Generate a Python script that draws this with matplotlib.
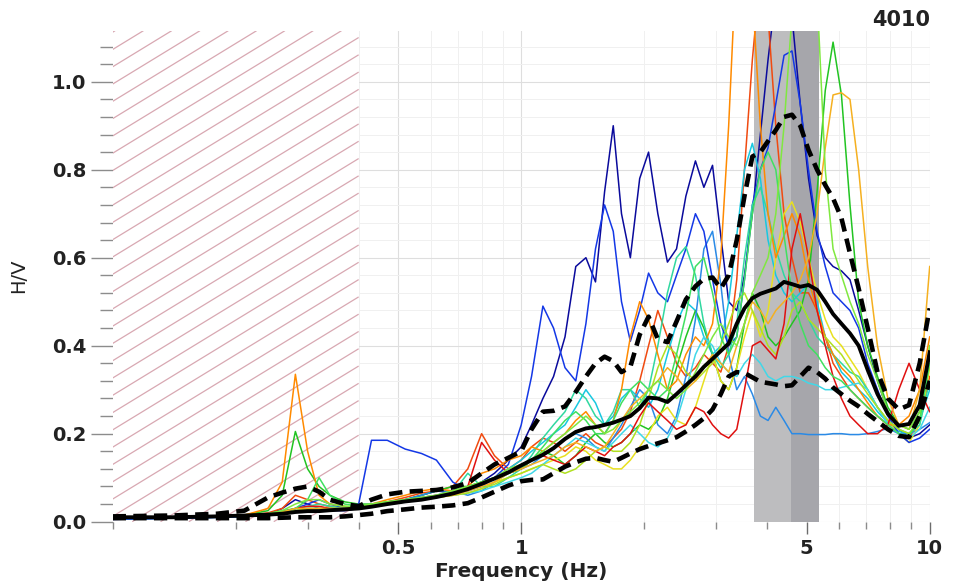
import numpy as np
import matplotlib
matplotlib.use('Agg')
import matplotlib.pyplot as plt
from matplotlib.collections import LineCollection
from matplotlib.ticker import FixedLocator, MultipleLocator, NullFormatter, FixedFormatter, FormatStrFormatter

# frequency samples shared by every curve (Hz)
freq = [0.10, 0.14, 0.18, 0.21, 0.24, 0.26, 0.28, 0.30, 0.32, 0.34,
        0.37, 0.40, 0.43, 0.47, 0.52, 0.57, 0.62, 0.68, 0.74, 0.80,
        0.86, 0.93, 1.00, 1.06, 1.13, 1.20, 1.28, 1.36, 1.44, 1.52,
        1.60, 1.68, 1.76, 1.85, 1.95, 2.05, 2.16, 2.28, 2.40, 2.53,
        2.67, 2.80, 2.94, 3.08, 3.22, 3.37, 3.52, 3.68, 3.85, 4.02,
        4.20, 4.40, 4.60, 4.82, 5.05, 5.30, 5.55, 5.80, 6.08, 6.38,
        6.70, 7.05, 7.45, 7.90, 8.40, 8.90, 9.45, 10.0]

hv_mean = [0.010, 0.010, 0.012, 0.014, 0.016, 0.018, 0.022, 0.024, 0.024, 0.026, 0.028, 0.030,
           0.034, 0.040, 0.046, 0.050, 0.056, 0.064, 0.074, 0.086, 0.098, 0.112,
           0.128, 0.140, 0.152, 0.167, 0.188, 0.204, 0.212, 0.215, 0.220, 0.225,
           0.232, 0.240, 0.258, 0.282, 0.280, 0.272, 0.290, 0.310, 0.330, 0.352,
           0.370, 0.388, 0.405, 0.450, 0.485, 0.508, 0.518, 0.524, 0.530, 0.545,
           0.540, 0.534, 0.538, 0.527, 0.500, 0.472, 0.450, 0.428, 0.400, 0.345,
           0.290, 0.245, 0.218, 0.222, 0.265, 0.385]

hv_plus = [0.012, 0.014, 0.018, 0.025, 0.055, 0.066, 0.075, 0.080, 0.068, 0.050, 0.040, 0.035,
           0.050, 0.062, 0.068, 0.070, 0.072, 0.078, 0.088, 0.110, 0.130, 0.145,
           0.160, 0.210, 0.250, 0.252, 0.262, 0.295, 0.330, 0.360, 0.375, 0.365,
           0.340, 0.352, 0.425, 0.466, 0.415, 0.408, 0.455, 0.505, 0.535, 0.552,
           0.555, 0.530, 0.560, 0.640, 0.740, 0.830, 0.840, 0.865, 0.890, 0.920,
           0.925, 0.900, 0.845, 0.800, 0.765, 0.735, 0.690, 0.610, 0.530, 0.440,
           0.340, 0.280, 0.255, 0.265, 0.360, 0.485]

hv_minus = [0.008, 0.008, 0.008, 0.008, 0.008, 0.009, 0.010, 0.010, 0.010, 0.010, 0.012, 0.015,
            0.018, 0.024, 0.028, 0.032, 0.034, 0.037, 0.042, 0.055, 0.068, 0.082,
            0.092, 0.095, 0.096, 0.110, 0.125, 0.135, 0.143, 0.145, 0.140, 0.136,
            0.145, 0.155, 0.165, 0.172, 0.178, 0.185, 0.192, 0.205, 0.220, 0.235,
            0.255, 0.290, 0.330, 0.340, 0.338, 0.328, 0.318, 0.315, 0.312, 0.308,
            0.310, 0.330, 0.350, 0.340, 0.325, 0.305, 0.290, 0.275, 0.262, 0.245,
            0.228, 0.210, 0.195, 0.192, 0.240, 0.320]

# individual windows
win_navy = [0.005, 0.008, 0.010, 0.012, 0.016, 0.030, 0.050, 0.040, 0.030, 0.025, 0.025, 0.030,
            0.035, 0.040, 0.050, 0.060, 0.070, 0.065, 0.075, 0.090, 0.110, 0.140,
            0.170, 0.220, 0.280, 0.330, 0.420, 0.580, 0.600, 0.545, 0.750, 0.900,
            0.700, 0.600, 0.780, 0.840, 0.700, 0.590, 0.620, 0.740, 0.820, 0.760,
            0.810, 0.650, 0.500, 0.480, 0.560, 0.700, 0.880, 1.050, 1.200, 1.200,
            1.150, 0.950, 0.780, 0.650, 0.600, 0.580, 0.570, 0.550, 0.480, 0.400,
            0.320, 0.250, 0.210, 0.190, 0.200, 0.220]
win_blue = [0.006, 0.008, 0.010, 0.012, 0.015, 0.020, 0.030, 0.040, 0.050, 0.040, 0.030, 0.040,
            0.185, 0.185, 0.165, 0.155, 0.140, 0.090, 0.070, 0.080, 0.100, 0.130,
            0.220, 0.330, 0.490, 0.440, 0.350, 0.320, 0.450, 0.620, 0.720, 0.660,
            0.500, 0.410, 0.480, 0.565, 0.520, 0.500, 0.560, 0.620, 0.700, 0.660,
            0.550, 0.450, 0.400, 0.420, 0.550, 0.720, 0.800, 0.850, 0.950, 1.060,
            1.070, 0.950, 0.800, 0.660, 0.580, 0.520, 0.500, 0.480, 0.440, 0.360,
            0.300, 0.240, 0.200, 0.180, 0.190, 0.210]
win_sky = [0.006, 0.008, 0.010, 0.012, 0.014, 0.020, 0.025, 0.030, 0.030, 0.028, 0.028, 0.030,
           0.035, 0.040, 0.050, 0.060, 0.070, 0.070, 0.060, 0.070, 0.090, 0.110,
           0.120, 0.130, 0.150, 0.170, 0.190, 0.200, 0.190, 0.170, 0.160, 0.190,
           0.220, 0.260, 0.300, 0.280, 0.220, 0.200, 0.240, 0.330, 0.460, 0.620,
           0.660, 0.540, 0.380, 0.300, 0.330, 0.290, 0.240, 0.230, 0.260, 0.230,
           0.200, 0.200, 0.198, 0.198, 0.198, 0.200, 0.200, 0.198, 0.198, 0.200,
           0.205, 0.212, 0.200, 0.200, 0.210, 0.225]
win_cyan = [0.006, 0.008, 0.010, 0.012, 0.015, 0.020, 0.030, 0.030, 0.028, 0.028, 0.028, 0.030,
            0.035, 0.040, 0.045, 0.050, 0.060, 0.070, 0.080, 0.090, 0.100, 0.120,
            0.140, 0.160, 0.180, 0.200, 0.220, 0.260, 0.300, 0.270, 0.220, 0.240,
            0.280, 0.300, 0.280, 0.260, 0.300, 0.380, 0.450, 0.500, 0.480, 0.420,
            0.380, 0.400, 0.500, 0.650, 0.800, 0.860, 0.780, 0.640, 0.560, 0.520,
            0.500, 0.520, 0.540, 0.500, 0.420, 0.380, 0.340, 0.320, 0.300, 0.280,
            0.250, 0.225, 0.205, 0.200, 0.230, 0.300]
win_aqua = [0.008, 0.010, 0.012, 0.014, 0.016, 0.020, 0.025, 0.030, 0.030, 0.030, 0.030, 0.030,
            0.035, 0.040, 0.045, 0.050, 0.055, 0.060, 0.065, 0.070, 0.080, 0.090,
            0.100, 0.110, 0.130, 0.150, 0.170, 0.190, 0.180, 0.170, 0.160, 0.180,
            0.200, 0.220, 0.200, 0.180, 0.170, 0.190, 0.230, 0.300, 0.380, 0.420,
            0.400, 0.360, 0.340, 0.330, 0.360, 0.380, 0.360, 0.330, 0.320, 0.330,
            0.330, 0.325, 0.315, 0.310, 0.300, 0.300, 0.305, 0.310, 0.315, 0.300,
            0.260, 0.220, 0.200, 0.190, 0.210, 0.260]
win_teal = [0.008, 0.010, 0.012, 0.014, 0.018, 0.025, 0.030, 0.035, 0.040, 0.035, 0.030, 0.032,
            0.035, 0.040, 0.045, 0.050, 0.055, 0.065, 0.110, 0.080, 0.080, 0.100,
            0.120, 0.150, 0.190, 0.220, 0.250, 0.300, 0.280, 0.240, 0.220, 0.250,
            0.300, 0.300, 0.260, 0.300, 0.400, 0.520, 0.600, 0.625, 0.560, 0.450,
            0.380, 0.350, 0.380, 0.450, 0.600, 0.720, 0.760, 0.700, 0.620, 0.560,
            0.520, 0.500, 0.460, 0.420, 0.400, 0.380, 0.360, 0.340, 0.330, 0.300,
            0.260, 0.230, 0.210, 0.200, 0.220, 0.320]
win_spring = [0.008, 0.010, 0.012, 0.014, 0.018, 0.022, 0.030, 0.050, 0.100, 0.060, 0.040, 0.035,
              0.040, 0.045, 0.050, 0.055, 0.060, 0.070, 0.080, 0.090, 0.100, 0.110,
              0.120, 0.140, 0.170, 0.200, 0.230, 0.250, 0.230, 0.200, 0.200, 0.230,
              0.270, 0.300, 0.320, 0.300, 0.280, 0.300, 0.380, 0.470, 0.580, 0.600,
              0.520, 0.420, 0.380, 0.420, 0.550, 0.700, 0.800, 0.840, 0.800, 0.650,
              0.520, 0.450, 0.400, 0.380, 0.350, 0.330, 0.320, 0.300, 0.280, 0.260,
              0.240, 0.220, 0.200, 0.195, 0.230, 0.360]
win_green = [0.008, 0.010, 0.012, 0.015, 0.025, 0.060, 0.205, 0.120, 0.080, 0.060, 0.045, 0.040,
             0.040, 0.045, 0.050, 0.060, 0.070, 0.080, 0.080, 0.090, 0.100, 0.110,
             0.120, 0.140, 0.160, 0.150, 0.130, 0.150, 0.180, 0.200, 0.180, 0.170,
             0.180, 0.200, 0.220, 0.210, 0.230, 0.280, 0.350, 0.420, 0.480, 0.440,
             0.380, 0.320, 0.300, 0.350, 0.450, 0.520, 0.480, 0.420, 0.400, 0.420,
             0.450, 0.480, 0.550, 0.750, 0.980, 1.090, 0.970, 0.720, 0.500, 0.400,
             0.330, 0.260, 0.220, 0.210, 0.250, 0.380]
win_lightgreen = [0.008, 0.010, 0.012, 0.014, 0.018, 0.025, 0.040, 0.050, 0.050, 0.040, 0.035, 0.035,
                  0.040, 0.045, 0.050, 0.055, 0.060, 0.070, 0.080, 0.090, 0.100, 0.120,
                  0.130, 0.140, 0.160, 0.180, 0.200, 0.220, 0.240, 0.220, 0.200, 0.210,
                  0.230, 0.250, 0.270, 0.300, 0.320, 0.300, 0.280, 0.300, 0.340, 0.380,
                  0.420, 0.450, 0.420, 0.400, 0.450, 0.520, 0.560, 0.600, 0.700, 0.900,
                  1.150, 1.300, 1.300, 1.200, 0.800, 0.620, 0.560, 0.500, 0.450, 0.380,
                  0.320, 0.250, 0.220, 0.210, 0.250, 0.400]
win_lime = [0.008, 0.010, 0.012, 0.014, 0.016, 0.020, 0.025, 0.030, 0.030, 0.030, 0.030, 0.032,
            0.035, 0.040, 0.045, 0.050, 0.055, 0.060, 0.065, 0.075, 0.085, 0.100,
            0.110, 0.120, 0.130, 0.120, 0.110, 0.120, 0.140, 0.160, 0.170, 0.160,
            0.160, 0.180, 0.220, 0.280, 0.350, 0.400, 0.380, 0.340, 0.320, 0.340,
            0.360, 0.400, 0.450, 0.500, 0.520, 0.480, 0.440, 0.400, 0.380, 0.420,
            0.480, 0.500, 0.460, 0.440, 0.420, 0.400, 0.380, 0.350, 0.320, 0.290,
            0.260, 0.230, 0.210, 0.200, 0.230, 0.400]
win_yellow = [0.008, 0.010, 0.012, 0.014, 0.016, 0.020, 0.025, 0.028, 0.030, 0.030, 0.030, 0.032,
              0.035, 0.040, 0.045, 0.050, 0.055, 0.060, 0.065, 0.075, 0.090, 0.100,
              0.110, 0.120, 0.130, 0.140, 0.150, 0.170, 0.160, 0.140, 0.130, 0.120,
              0.120, 0.140, 0.170, 0.200, 0.240, 0.260, 0.230, 0.220, 0.260, 0.320,
              0.380, 0.320, 0.300, 0.350, 0.420, 0.480, 0.420, 0.480, 0.600, 0.700,
              0.727, 0.680, 0.600, 0.520, 0.460, 0.420, 0.400, 0.370, 0.340, 0.300,
              0.260, 0.230, 0.200, 0.180, 0.220, 0.350]
win_gold = [0.008, 0.010, 0.012, 0.014, 0.018, 0.022, 0.030, 0.030, 0.030, 0.030, 0.030, 0.032,
            0.035, 0.040, 0.045, 0.050, 0.055, 0.060, 0.070, 0.080, 0.090, 0.110,
            0.120, 0.130, 0.140, 0.150, 0.170, 0.180, 0.170, 0.160, 0.170, 0.200,
            0.230, 0.260, 0.280, 0.300, 0.320, 0.350, 0.330, 0.300, 0.320, 0.350,
            0.380, 0.360, 0.340, 0.400, 0.450, 0.500, 0.480, 0.450, 0.480, 0.500,
            0.520, 0.550, 0.600, 0.700, 0.850, 0.970, 0.975, 0.960, 0.800, 0.580,
            0.400, 0.280, 0.220, 0.210, 0.300, 0.580]
win_orange = [0.008, 0.010, 0.012, 0.015, 0.030, 0.090, 0.335, 0.160, 0.060, 0.040, 0.035, 0.030,
              0.040, 0.050, 0.060, 0.070, 0.075, 0.070, 0.080, 0.110, 0.120, 0.140,
              0.150, 0.170, 0.160, 0.180, 0.200, 0.230, 0.250, 0.220, 0.200, 0.230,
              0.300, 0.420, 0.500, 0.460, 0.380, 0.300, 0.320, 0.380, 0.420, 0.400,
              0.450, 0.600, 0.900, 1.300, 1.400, 1.200, 0.900, 0.700, 0.600, 0.650,
              0.700, 0.650, 0.550, 0.480, 0.420, 0.380, 0.350, 0.330, 0.300, 0.270,
              0.240, 0.220, 0.220, 0.240, 0.300, 0.420]
win_redorange = [0.008, 0.010, 0.012, 0.014, 0.020, 0.030, 0.060, 0.050, 0.040, 0.035, 0.030, 0.030,
                 0.035, 0.045, 0.055, 0.065, 0.070, 0.080, 0.120, 0.200, 0.150, 0.120,
                 0.140, 0.170, 0.190, 0.180, 0.160, 0.180, 0.200, 0.180, 0.170, 0.190,
                 0.210, 0.250, 0.320, 0.400, 0.480, 0.420, 0.360, 0.330, 0.350, 0.380,
                 0.360, 0.340, 0.400, 0.550, 0.800, 1.050, 1.250, 1.150, 0.900, 0.700,
                 0.600, 0.520, 0.520, 0.480, 0.420, 0.360, 0.330, 0.300, 0.280, 0.260,
                 0.240, 0.220, 0.200, 0.190, 0.230, 0.330]
win_red = [0.008, 0.010, 0.012, 0.014, 0.018, 0.022, 0.030, 0.035, 0.035, 0.030, 0.028, 0.030,
           0.035, 0.040, 0.045, 0.055, 0.060, 0.065, 0.080, 0.180, 0.140, 0.110,
           0.120, 0.140, 0.150, 0.140, 0.130, 0.150, 0.170, 0.160, 0.150, 0.170,
           0.180, 0.200, 0.240, 0.270, 0.250, 0.230, 0.210, 0.220, 0.260, 0.250,
           0.220, 0.200, 0.190, 0.210, 0.300, 0.400, 0.410, 0.390, 0.370, 0.450,
           0.620, 0.700, 0.600, 0.480, 0.400, 0.330, 0.280, 0.240, 0.220, 0.200,
           0.200, 0.220, 0.300, 0.360, 0.300, 0.250]

windows = [win_navy, win_redorange, win_cyan, win_green, win_sky, win_yellow, win_blue,
           win_teal, win_orange, win_aqua, win_lime, win_red, win_spring, win_gold, win_lightgreen]
window_colors = ['#0a0a9c', '#f04a10', '#18c8e0', '#22c422', '#2a8ae6', '#e8e020', '#1438e6',
                 '#30d8a0', '#ff8a00', '#40d8e8', '#b0e020', '#e01010', '#40e060', '#f5b020', '#80e840']

# peak frequency band (f0 +/- std) and lower usable frequency limit
f0_band = (3.72, 4.58)
f0_band_dark = (4.58, 5.37)
f_min_valid = 0.4

station = '4010'
tick_freqs = [0.5, 1, 5, 10]
tick_labels = ['0.5', '1', '5', '10']
minor_freqs = [0.1, 0.2, 0.3, 0.4, 0.6, 0.7, 0.8, 0.9, 2, 3, 4, 6, 7, 8, 9]

font = 'DejaVu Sans'
text_col = '#222222'
ax_rect = [0.1179, 0.1113, 0.8546, 0.8364]

fig = plt.figure(figsize=(9.56, 5.87), dpi=100)
ax = fig.add_axes(ax_rect)
ax.set_xscale('log')
ax.set_xlim(0.1, 10)
ax.set_ylim(0, 1.116)
ax.set_axisbelow(True)

for s in ax.spines.values():
    s.set_visible(False)

ax.xaxis.set_major_locator(FixedLocator(tick_freqs))
ax.xaxis.set_major_formatter(FixedFormatter(tick_labels))
ax.xaxis.set_minor_locator(FixedLocator(minor_freqs))
ax.xaxis.set_minor_formatter(NullFormatter())
ax.yaxis.set_major_locator(MultipleLocator(0.2))
ax.yaxis.set_minor_locator(MultipleLocator(0.04))
ax.yaxis.set_major_formatter(FormatStrFormatter('%.1f'))

ax.tick_params(axis='y', which='major', length=16, width=1.0, color='#8c8c8c', pad=3)
ax.tick_params(axis='y', which='minor', length=9.5, width=1.0, color='#8c8c8c')
ax.tick_params(axis='x', which='major', length=8.5, width=1.0, color='#6c6c6c', pad=4)
ax.tick_params(axis='x', which='minor', length=5, width=1.0, color='#8c8c8c')
for lab in ax.get_xticklabels() + ax.get_yticklabels():
    lab.set_fontfamily(font)
    lab.set_fontweight('bold')
    lab.set_fontsize(14)
    lab.set_color(text_col)

ax.grid(which='major', color='#dedede', lw=0.8)
ax.grid(which='minor', color='#f0f0f0', lw=0.7)

# hatched area below the lowest valid frequency: white cover, then slanted lines
ax.axvspan(0.1, f_min_valid, facecolor='white', edgecolor='none', zorder=1)
ax_w = fig.get_figwidth() * fig.dpi * ax_rect[2]
ax_h = fig.get_figheight() * fig.dpi * ax_rect[3]
slope = 0.611 * ax_w / ax_h          # 0.611 is the pixel slope of the hatch
step = 28.3 / ax_w                   # horizontal spacing between hatch lines
x_right = np.log10(f_min_valid / 0.1) / np.log10(10 / 0.1)
segs = []
for x0 in np.arange(x_right, -1.0 / slope - step, -step):
    xa = max(0.0, x0)
    xb = min(x_right, x0 + 1.0 / slope)
    if xb > xa:
        segs.append([(xa, slope * (xa - x0)), (xb, slope * (xb - x0))])
hatch = LineCollection(segs, colors='#d8a8b2', linewidths=0.9, transform=ax.transAxes, zorder=1.1)
ax.add_collection(hatch)

ax.axvspan(*f0_band, facecolor='#bdbdbf', edgecolor='none', zorder=1)
ax.axvspan(*f0_band_dark, facecolor='#a6a6ab', edgecolor='none', zorder=1)

for vals, col in zip(windows, window_colors):
    ax.plot(freq, vals, color=col, lw=1.1, zorder=2)

ax.plot(freq, hv_plus, color='black', lw=3.3, dashes=(2.9, 1.6), zorder=3)
ax.plot(freq, hv_minus, color='black', lw=3.3, dashes=(2.9, 1.6), zorder=3)
ax.plot(freq, hv_mean, color='black', lw=2.8, zorder=4)

ax.set_xlabel('Frequency (Hz)', fontsize=14.5, fontweight='bold', family=font, color=text_col, labelpad=3)
ax.set_ylabel('H/V', fontsize=14, family=font, color=text_col)
ax.yaxis.set_label_coords(-0.103, 0.5)
ax.text(1.0, 1.0096, station, transform=ax.transAxes, ha='right', va='baseline',
        fontsize=15, fontweight='bold', family=font, color=text_col)

fig.savefig('out.png', dpi=100)
